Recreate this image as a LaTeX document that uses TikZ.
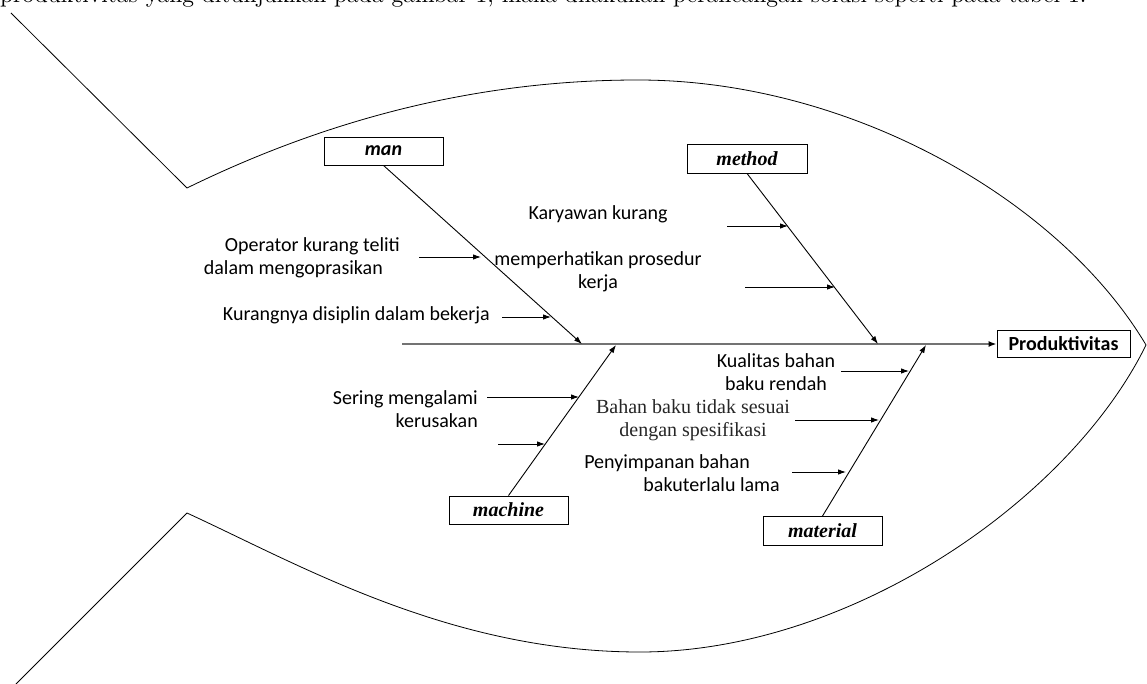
\documentclass[tikz,border=0pt]{standalone}
\usepackage{graphicx}
\usepackage{fontspec}
\setmainfont{Liberation Serif}
\newfontfamily\calfont{Carlito}
\newfontfamily\pagefont{Latin Modern Roman}
\usetikzlibrary{arrows.meta}
\begin{document}
\begin{tikzpicture}[x=1pt,y=-1pt,
  outline/.style={line width=0.8pt, line join=miter},
  boxnode/.style={draw, line width=0.9pt, inner sep=0pt, minimum width=119pt, minimum height=28pt},
  sansbox/.style={font=\calfont\bfseries\itshape\fontsize{20}{23}\selectfont},
  serifbox/.style={font=\bfseries\itshape\fontsize{20}{23}\selectfont},
  sanslbl/.style={font=\calfont\fontsize{20}{23}\selectfont, inner sep=0pt},
  seriflbl/.style={font=\fontsize{20}{23}\selectfont, inner sep=0pt, text=black!85},
  bone/.style={line width=0.9pt, -{Latex[length=8pt,width=5.5pt]}},
  subarrow/.style={line width=0.9pt, -{Latex[length=8pt,width=5.5pt]}},
  spine/.style={line width=1.6pt, draw=black!55, -{Latex[length=8pt,width=6pt,color=black]}}]
\useasboundingbox (0,0) rectangle (1147,684);

% cut-off page text
\begin{scope}
\clip (0,0) rectangle (1147,684);
\node[anchor=base west, inner sep=0pt] (pagetext) at (0,3)
  {\resizebox{1086pt}{!}{\pagefont produktivitas yang ditunjukkan pada gambar 1, maka dilakukan perancangan solusi seperti pada tabel 1.}};
\end{scope}

% fish outline
\coordinate (tailTop) at (11,13);
\coordinate (jTop) at (187,188);
\coordinate (bodyTop) at (638,80);
\coordinate (nose) at (1146,345);
\coordinate (bodyBot) at (640,652);
\coordinate (jBot) at (187,513);
\coordinate (tailBot) at (16,684);
\draw[outline] (tailTop) -- (jTop) .. controls (330,118) and (480,80) .. (bodyTop)
  .. controls (850,80) and (1060,200) .. (nose)
  .. controls (1070,500) and (850,652) .. (bodyBot)
  .. controls (450,652) and (300,565) .. (jBot) -- (tailBot);

% category boxes
\node[boxnode, sansbox] (man) at (383.5,151) {man};
\node[boxnode, serifbox, minimum width=120pt, minimum height=29pt] (method) at (747,158.5) {method};
\node[boxnode, serifbox] (machine) at (508.5,510) {machine};
\node[boxnode, serifbox, minimum height=29pt] (material) at (822.5,531) {material};
\node[boxnode, font=\calfont\bfseries\fontsize{20}{23}\selectfont, minimum width=133pt, minimum height=27pt] (prod) at (1063.5,344) {Produktivitas};

% spine
\coordinate (spineL) at (402,344);
\draw[spine] (spineL) -- (prod.west);

% bones
\coordinate (manEnd) at (582,344);
\coordinate (methodEnd) at (878,344);
\coordinate (machineEnd) at (616,345);
\coordinate (materialEnd) at (926,345);
\draw[bone] (man.south) -- (manEnd);
\draw[bone] (method.south) -- (methodEnd);
\draw[bone] (machine.north) -- (machineEnd);
\draw[bone] (material.north) -- (materialEnd);

% cause texts
\node[sanslbl, align=right, anchor=east] (tOp) at (400,258) {Operator kurang teliti\\dalam mengoprasikan\hspace*{17pt}};
\node[sanslbl, anchor=mid east] (tKd) at (490,318) {Kurangnya disiplin dalam bekerja};
\node[sanslbl, anchor=mid] (tKk) at (598,217) {Karyawan kurang};
\node[sanslbl, align=center] (tMp) at (598,272) {memperhatikan prosedur\\kerja};
\node[sanslbl, align=right, anchor=east] (tSm) at (478,409) {Sering mengalami\\kerusakan};
\node[sanslbl, align=center] (tKb) at (776,372) {Kualitas bahan\\baku rendah};
\node[seriflbl, align=center] (tBb) at (693,420) {Bahan baku tidak sesuai\\dengan spesifikasi};
\node[sanslbl, align=right, anchor=east] (tPs) at (780,473) {Penyimpanan bahan\hspace*{30pt}\\bakuterlalu lama};

% cause arrows
\coordinate (a1s) at (419,257); \coordinate (a1e) at (481,257);
\coordinate (a2s) at (502,317); \coordinate (a2e) at (551,317);
\coordinate (a3s) at (727,226); \coordinate (a3e) at (788,226);
\coordinate (a4s) at (745,287); \coordinate (a4e) at (835,287);
\coordinate (a5s) at (487,397); \coordinate (a5e) at (579,397);
\coordinate (a6s) at (498,444); \coordinate (a6e) at (545,444);
\coordinate (a7s) at (841,371); \coordinate (a7e) at (909,371);
\coordinate (a8s) at (795,420); \coordinate (a8e) at (879,420);
\coordinate (a9s) at (792,472); \coordinate (a9e) at (846,472);
\foreach \i in {1,...,9} {\draw[subarrow] (a\i s) -- (a\i e);}
\end{tikzpicture}
\end{document}
